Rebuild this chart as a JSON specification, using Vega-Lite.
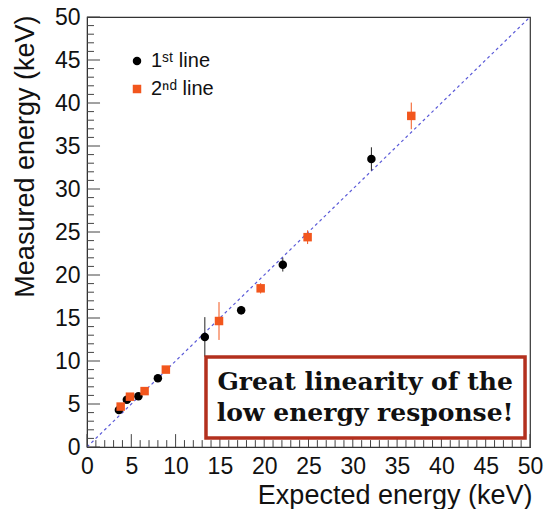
{
  "$schema": "https://vega.github.io/schema/vega-lite/v6.json",
  "width": 443,
  "height": 430,
  "autosize": "none",
  "padding": {"left": 87, "top": 17, "right": 21, "bottom": 62},
  "background": "white",
  "config": {
    "view": {"stroke": "#333333", "strokeWidth": 1.2},
    "axis": {
      "grid": false,
      "labelFont": "Liberation Sans",
      "titleFont": "Liberation Sans",
      "labelColor": "#111111",
      "titleColor": "#111111",
      "domainColor": "#333333",
      "titleFontWeight": "normal"
    }
  },
  "datasets": {
    "pts": [
      {"series": "1ˢᵗ line", "e": 3.6, "m": 4.3, "lo": 4.0, "hi": 4.6},
      {"series": "1ˢᵗ line", "e": 4.5, "m": 5.5, "lo": 5.2, "hi": 5.8},
      {"series": "1ˢᵗ line", "e": 5.8, "m": 5.9, "lo": 5.6, "hi": 6.2},
      {"series": "1ˢᵗ line", "e": 8.0, "m": 8.0, "lo": 7.7, "hi": 8.3},
      {"series": "1ˢᵗ line", "e": 13.3, "m": 12.8, "lo": 10.5, "hi": 15.1},
      {"series": "1ˢᵗ line", "e": 17.4, "m": 15.9, "lo": 15.4, "hi": 16.4},
      {"series": "1ˢᵗ line", "e": 22.1, "m": 21.2, "lo": 20.4, "hi": 22.0},
      {"series": "1ˢᵗ line", "e": 32.1, "m": 33.5, "lo": 32.15, "hi": 34.85},
      {"series": "2ⁿᵈ line", "e": 3.8, "m": 4.7, "lo": 4.4, "hi": 5.0},
      {"series": "2ⁿᵈ line", "e": 4.85, "m": 5.85, "lo": 5.55, "hi": 6.15},
      {"series": "2ⁿᵈ line", "e": 6.5, "m": 6.5, "lo": 6.2, "hi": 6.8},
      {"series": "2ⁿᵈ line", "e": 8.9, "m": 9.0, "lo": 8.7, "hi": 9.3},
      {"series": "2ⁿᵈ line", "e": 14.9, "m": 14.65, "lo": 12.45, "hi": 16.85},
      {"series": "2ⁿᵈ line", "e": 19.6, "m": 18.45, "lo": 17.85, "hi": 19.05},
      {"series": "2ⁿᵈ line", "e": 24.9, "m": 24.4, "lo": 23.6, "hi": 25.2},
      {"series": "2ⁿᵈ line", "e": 36.6, "m": 38.5, "lo": 36.95, "hi": 40.05}
    ],
    "scaleTicks": [
      {"v": 0, "kind": "major"}, {"v": 1, "kind": "minor"}, {"v": 2, "kind": "minor"}, {"v": 3, "kind": "minor"}, {"v": 4, "kind": "minor"},
      {"v": 5, "kind": "major"}, {"v": 6, "kind": "minor"}, {"v": 7, "kind": "minor"}, {"v": 8, "kind": "minor"}, {"v": 9, "kind": "minor"},
      {"v": 10, "kind": "major"}, {"v": 11, "kind": "minor"}, {"v": 12, "kind": "minor"}, {"v": 13, "kind": "minor"}, {"v": 14, "kind": "minor"},
      {"v": 15, "kind": "major"}, {"v": 16, "kind": "minor"}, {"v": 17, "kind": "minor"}, {"v": 18, "kind": "minor"}, {"v": 19, "kind": "minor"},
      {"v": 20, "kind": "major"}, {"v": 21, "kind": "minor"}, {"v": 22, "kind": "minor"}, {"v": 23, "kind": "minor"}, {"v": 24, "kind": "minor"},
      {"v": 25, "kind": "major"}, {"v": 26, "kind": "minor"}, {"v": 27, "kind": "minor"}, {"v": 28, "kind": "minor"}, {"v": 29, "kind": "minor"},
      {"v": 30, "kind": "major"}, {"v": 31, "kind": "minor"}, {"v": 32, "kind": "minor"}, {"v": 33, "kind": "minor"}, {"v": 34, "kind": "minor"},
      {"v": 35, "kind": "major"}, {"v": 36, "kind": "minor"}, {"v": 37, "kind": "minor"}, {"v": 38, "kind": "minor"}, {"v": 39, "kind": "minor"},
      {"v": 40, "kind": "major"}, {"v": 41, "kind": "minor"}, {"v": 42, "kind": "minor"}, {"v": 43, "kind": "minor"}, {"v": 44, "kind": "minor"},
      {"v": 45, "kind": "major"}, {"v": 46, "kind": "minor"}, {"v": 47, "kind": "minor"}, {"v": 48, "kind": "minor"}, {"v": 49, "kind": "minor"},
      {"v": 50, "kind": "major"}
    ]
  },
  "layer": [
    {
      "data": {"values": [{"e": 0, "m": 0}, {"e": 50, "m": 50}]},
      "mark": {"type": "line", "color": "#5a5ad8", "strokeDash": [3, 3], "strokeWidth": 1.2, "clip": true},
      "encoding": {
        "x": {
          "field": "e", "type": "quantitative",
          "scale": {"domain": [0, 50], "nice": false, "zero": false},
          "axis": {
            "orient": "bottom", "values": [0, 5, 10, 15, 20, 25, 30, 35, 40, 45, 50], "format": "d",
            "ticks": false, "domain": true, "labelFontSize": 23, "labelPadding": 8, "labelFlush": false, "labelOverlap": false,
            "title": "Expected energy (keV)", "titleFontSize": 27,
            "titleX": 445, "titleY": 56, "titleAlign": "right", "titleBaseline": "alphabetic"
          }
        },
        "y": {
          "field": "m", "type": "quantitative",
          "scale": {"domain": [0, 50], "nice": false, "zero": false},
          "axis": {
            "orient": "left", "values": [0, 5, 10, 15, 20, 25, 30, 35, 40, 45, 50], "format": "d",
            "ticks": false, "domain": true, "labelFontSize": 23, "labelPadding": 7, "labelFlush": false, "labelOverlap": false,
            "title": "Measured energy (keV)", "titleFontSize": 27,
            "titleX": -54, "titleY": -2, "titleAngle": -90, "titleAlign": "right", "titleBaseline": "alphabetic"
          }
        }
      }
    },
    {
      "data": {"name": "scaleTicks"},
      "transform": [{"filter": "datum.kind === 'major'"}],
      "mark": {"type": "rule", "color": "#444444", "strokeWidth": 1},
      "encoding": {
        "x": {"field": "v", "type": "quantitative"},
        "y": {"datum": 0, "type": "quantitative"},
        "y2": {"datum": 1.5}
      }
    },
    {
      "data": {"name": "scaleTicks"},
      "transform": [{"filter": "datum.kind === 'minor'"}],
      "mark": {"type": "rule", "color": "#444444", "strokeWidth": 1},
      "encoding": {
        "x": {"field": "v", "type": "quantitative"},
        "y": {"datum": 0, "type": "quantitative"},
        "y2": {"datum": 0.8}
      }
    },
    {
      "data": {"name": "scaleTicks"},
      "transform": [{"filter": "datum.kind === 'major'"}],
      "mark": {"type": "rule", "color": "#444444", "strokeWidth": 1},
      "encoding": {
        "y": {"field": "v", "type": "quantitative"},
        "x": {"datum": 0, "type": "quantitative"},
        "x2": {"datum": 1.47}
      }
    },
    {
      "data": {"name": "scaleTicks"},
      "transform": [{"filter": "datum.kind === 'minor'"}],
      "mark": {"type": "rule", "color": "#444444", "strokeWidth": 1},
      "encoding": {
        "y": {"field": "v", "type": "quantitative"},
        "x": {"datum": 0, "type": "quantitative"},
        "x2": {"datum": 0.79}
      }
    },
    {
      "data": {"name": "pts"},
      "transform": [{"filter": "datum.series === '1ˢᵗ line'"}],
      "mark": {"type": "rule", "strokeWidth": 1, "color": "#222222"},
      "encoding": {
        "x": {"field": "e", "type": "quantitative"},
        "y": {"field": "lo", "type": "quantitative"},
        "y2": {"field": "hi"}
      }
    },
    {
      "data": {"name": "pts"},
      "transform": [{"filter": "datum.series === '2ⁿᵈ line'"}],
      "mark": {"type": "rule", "strokeWidth": 1, "color": "#f2561d"},
      "encoding": {
        "x": {"field": "e", "type": "quantitative"},
        "y": {"field": "lo", "type": "quantitative"},
        "y2": {"field": "hi"}
      }
    },
    {
      "data": {"name": "pts"},
      "mark": {"type": "point", "filled": true, "opacity": 1},
      "encoding": {
        "x": {"field": "e", "type": "quantitative"},
        "y": {"field": "m", "type": "quantitative"},
        "size": {"value": 72},
        "color": {
          "field": "series", "type": "nominal",
          "scale": {"domain": ["1ˢᵗ line", "2ⁿᵈ line"], "range": ["#000000", "#f2561d"]},
          "legend": {
            "title": null, "orient": "none", "legendX": 40, "legendY": 34, "padding": 0,
            "labelFont": "Liberation Sans", "labelFontSize": 20, "labelColor": "#111111",
            "labelOffset": 4, "rowPadding": 8, "symbolSize": 72
          }
        },
        "shape": {
          "field": "series", "type": "nominal",
          "scale": {"domain": ["1ˢᵗ line", "2ⁿᵈ line"], "range": ["circle", "square"]}
        }
      }
    },
    {
      "data": {"values": [{}]},
      "mark": {"type": "rect", "fill": "white", "stroke": "#b3301e", "strokeWidth": 3.5},
      "encoding": {
        "x": {"datum": 13.43, "type": "quantitative"},
        "x2": {"datum": 49.44},
        "y": {"datum": 1.05, "type": "quantitative"},
        "y2": {"datum": 10.47}
      }
    },
    {
      "data": {"values": [{}]},
      "mark": {"type": "text", "font": "DejaVu Serif", "fontWeight": "bold", "fontSize": 25, "align": "center", "baseline": "middle", "color": "#111111"},
      "encoding": {
        "x": {"datum": 31.4, "type": "quantitative"},
        "y": {"datum": 7.56, "type": "quantitative"},
        "text": {"value": "Great linearity of the"}
      }
    },
    {
      "data": {"values": [{}]},
      "mark": {"type": "text", "font": "DejaVu Serif", "fontWeight": "bold", "fontSize": 25, "align": "center", "baseline": "middle", "color": "#111111"},
      "encoding": {
        "x": {"datum": 31.4, "type": "quantitative"},
        "y": {"datum": 3.95, "type": "quantitative"},
        "text": {"value": "low energy response!"}
      }
    }
  ]
}
